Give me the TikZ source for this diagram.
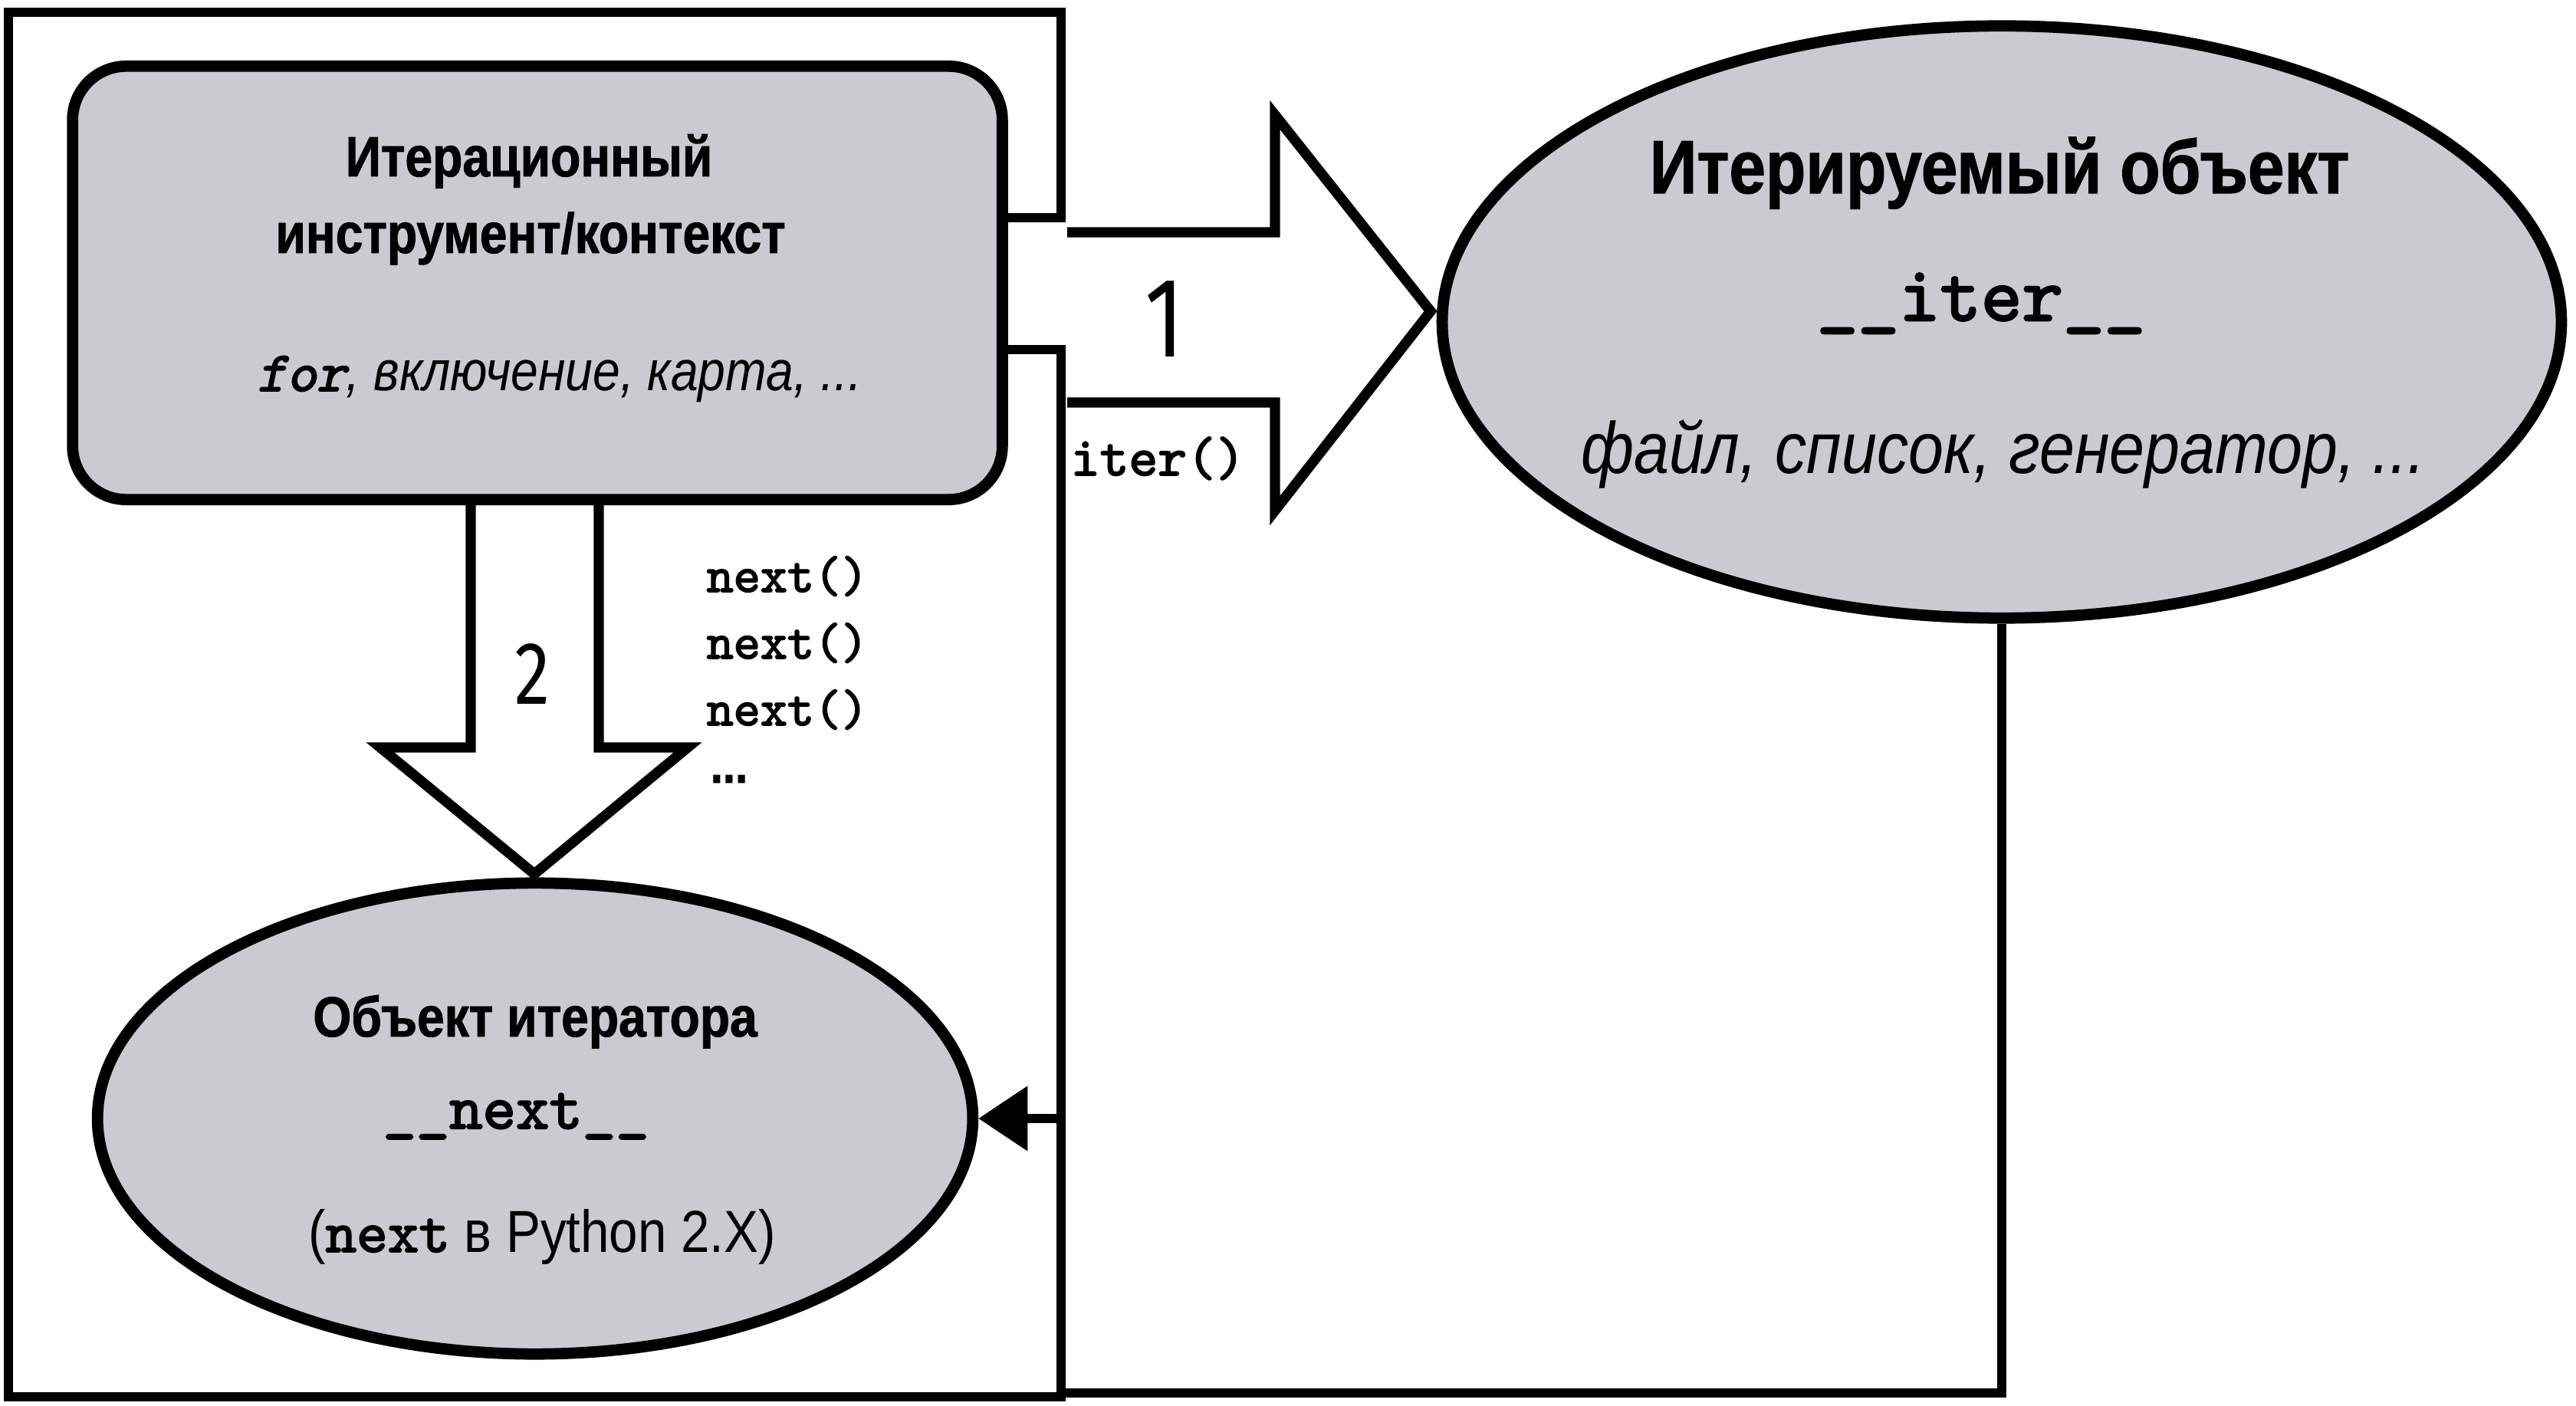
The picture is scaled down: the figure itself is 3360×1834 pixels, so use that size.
\documentclass[tikz,border=0pt]{standalone}
\usepackage{fontspec}
\setmainfont[FakeStretch=0.87, BoldFeatures={FakeBold=1.2}]{Liberation Sans}
\newfontfamily\numfont[FakeStretch=0.8]{Fira Sans}
\newfontfamily\codefont[FakeBold=2.5]{lmmono10-regular.otf}
\newfontfamily\codeitfont[FakeBold=2.5, FakeSlant=0.2]{lmmono10-regular.otf}
\usetikzlibrary{shapes.geometric,arrows.meta}
\definecolor{shade}{RGB}{202,202,208}
\newcommand{\cbf}[1]{{\codefont #1}}
\begin{document}
\begin{tikzpicture}[x=0.01cm,y=-0.01cm,
  heavy/.style={line width=3.8pt, line join=miter},
  thinline/.style={line width=3.3pt},
  shapebox/.style={draw, line width=4.2pt, fill=shade, inner sep=0pt},
  txt/.style={inner sep=0pt, anchor=base},
  boldA/.style={txt, font=\fontsize{21}{25}\selectfont\bfseries},
  itA/.style={txt, font=\fontsize{21}{25}\selectfont\itshape},
  boldB/.style={txt, font=\fontsize{28}{32}\selectfont\bfseries},
  itB/.style={txt, font=\fontsize{27}{31}\selectfont\itshape},
  codeB/.style={txt, font=\fontsize{29}{33}\selectfont\codefont},
  codeC/.style={txt, font=\fontsize{23.5}{27}\selectfont\codefont},
  regC/.style={txt, font=\fontsize{22}{26}\selectfont},
  calltxt/.style={inner sep=0pt, anchor=base west, font=\fontsize{19}{22}\selectfont\codefont},
  numlbl/.style={inner sep=0pt, font=\numfont}
]
\useasboundingbox (0,0) rectangle (3360,1834);

% shapes
\node[shapebox, rounded corners=0.7cm, minimum width=12.12cm, minimum height=5.65cm] (tool) at (701,369) {};
\node[shapebox, ellipse, minimum width=14.59cm, minimum height=7.72cm] (iterable) at (2611,420) {};
\node[shapebox, ellipse, minimum width=11.41cm, minimum height=6.14cm] (iterator) at (698,1459) {};

% frame around the left part
\draw[thinline] (1310,284) -- (1384,284) -- (1384,16) -- (11,16) -- (11,1822) -- (1384,1822) -- (1384,456) -- (1310,456);

% block arrow 1
\draw[heavy] (1392,303) -- (1663,303) -- (1663,150) -- (1866,406) -- (1663,666) -- (1663,525) -- (1392,525);
% block arrow 2
\draw[heavy] (614,656) -- (614,975) -- (496,975) -- (697,1140) -- (897,975) -- (781,975) -- (781,656);

% return connector
\draw[thinline, -{Triangle[length=0.64cm,width=0.82cm]}] (iterable.south) -- (iterable.south |- 0,1817) -- (1384,1817) -- (iterator.east -| 1384,0) -- (iterator.east);

% texts in the tool box
\node[boldA] (t1) at (690,230) {Итерационный};
\node[boldA] (t2) at (692,330) {инструмент/контекст};
\node[itA] (t3) at (730,510) {{\codeitfont for}, включение, карта, ...};

% texts in iterable
\node[boldB] (i1) at (2608,252) {Итерируемый объект};
\node[codeB] (i2) at (2584,418) {\_\_iter\_\_};
\node[itB] (i3) at (2613,618) {файл, список, генератор, ...};

% texts in iterator
\node[boldA] (n1) at (698,1352) {Объект итератора};
\node[codeC] (n2) at (673,1472) {\_\_next\_\_};
\node[regC] (n3) at (707,1633) {(\cbf{next} в Python 2.X)};

% labels
\node[numlbl, font=\numfont\fontsize{42}{46}\selectfont] (l1) at (1519,416) {1};
\node[numlbl, font=\numfont\fontsize{33}{36}\selectfont] (l2) at (694,879) {2};
\node[calltxt, font=\fontsize{20.5}{24}\selectfont\codefont] (c0) at (1396,620) {iter()};
\node[calltxt] (c1) at (921,772) {next()};
\node[calltxt] (c2) at (921,859) {next()};
\node[calltxt] (c3) at (921,946) {next()};
\node[calltxt, font=\fontsize{19}{22}\selectfont\bfseries] (c4) at (926,1021) {...};
\end{tikzpicture}
\end{document}
